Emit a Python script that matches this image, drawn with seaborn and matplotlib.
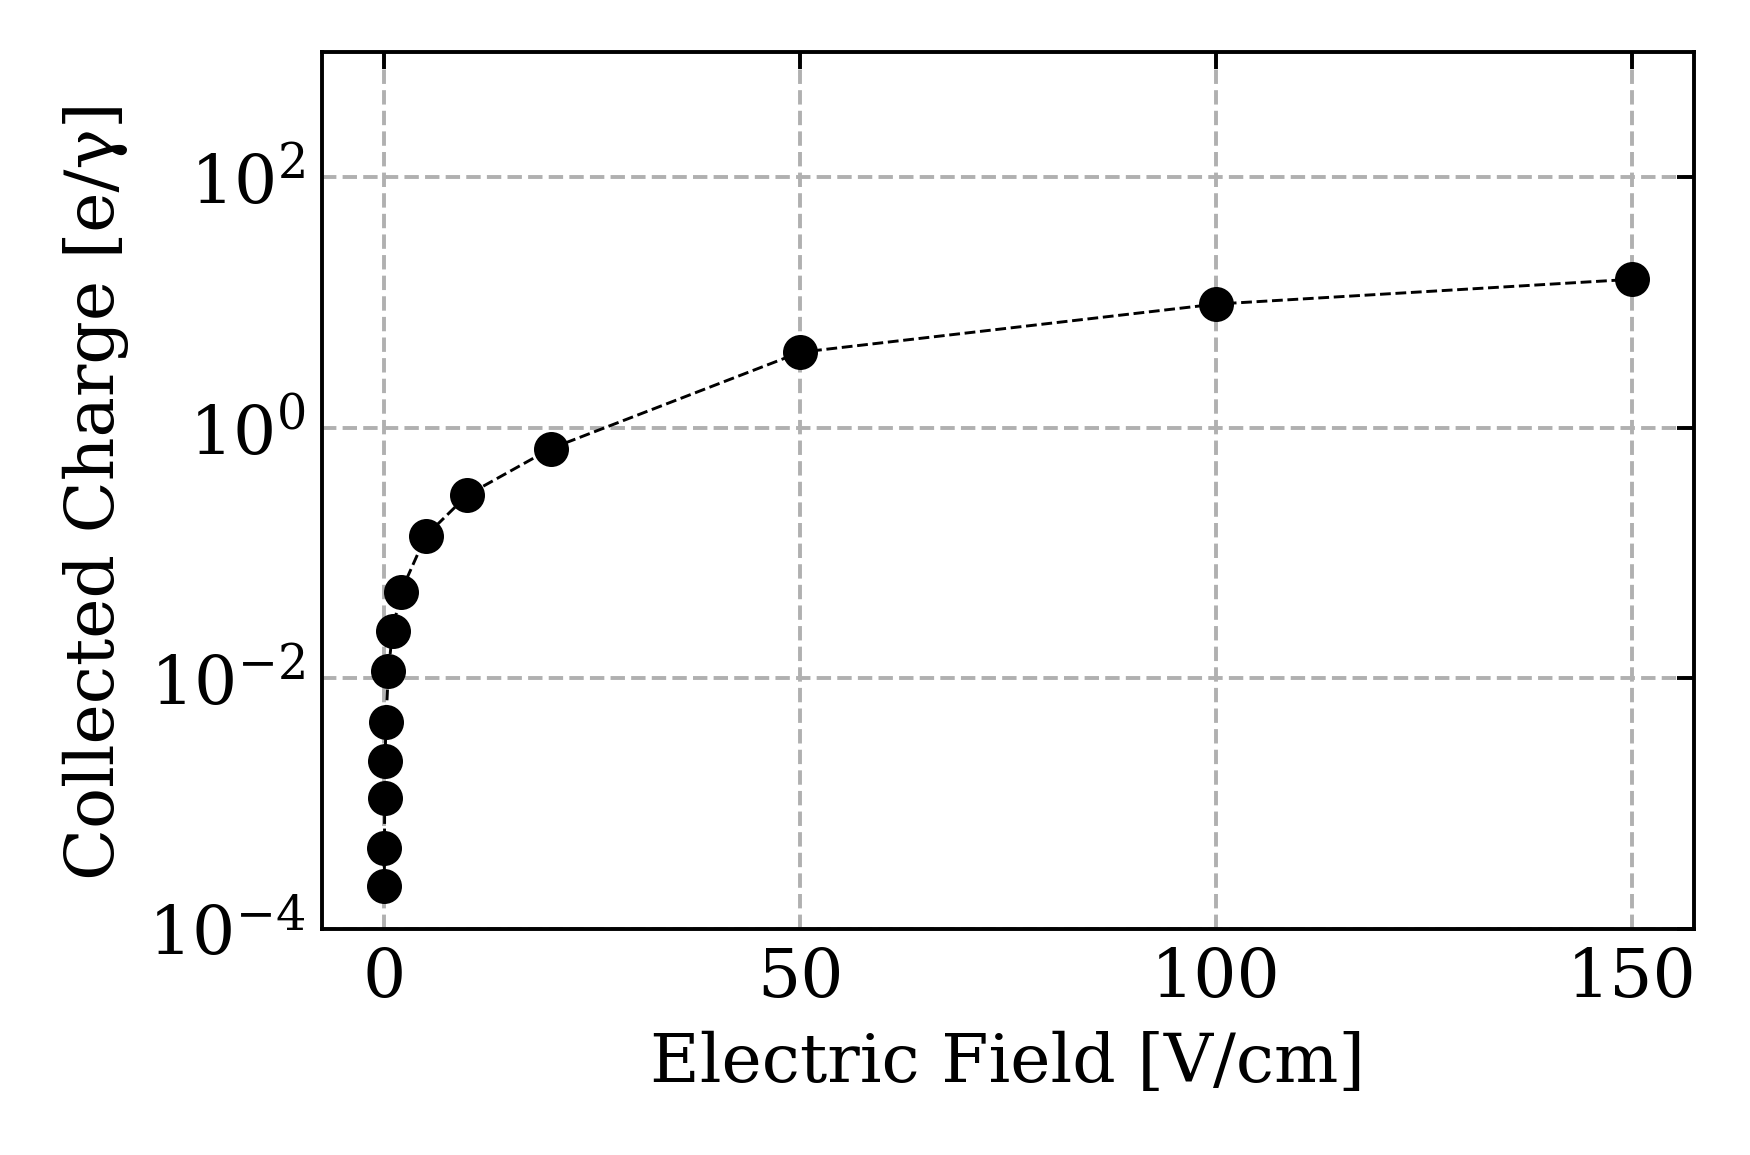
import matplotlib
matplotlib.use("Agg")
import matplotlib.pyplot as plt
import seaborn as sns
import pandas as pd

field = [0.01, 0.02, 0.05, 0.1, 0.2, 0.5, 1, 2, 5, 10, 20, 50, 100, 150]
charge = [2.2e-4, 4.4e-4, 1.1e-3, 2.2e-3, 4.5e-3, 0.0115, 0.024, 0.049,
          0.137, 0.29, 0.68, 4.0, 9.7, 15.3]
xticks = [0, 50, 100, 150]

sns.set_style("white")
plt.rcParams["font.family"] = ["DejaVu Serif"]
plt.rcParams["mathtext.fontset"] = "dejavuserif"
plt.rcParams["text.color"] = "black"
plt.rcParams["axes.labelcolor"] = "black"
plt.rcParams["xtick.color"] = "black"
plt.rcParams["ytick.color"] = "black"

df = pd.DataFrame({"field": field, "charge": charge})

fig = plt.figure(figsize=(5, 3.3), dpi=350)
ax = fig.add_axes([0.184, 0.196, 0.784, 0.759])

sns.lineplot(data=df, x="field", y="charge", ax=ax, color="black",
             linestyle="--", linewidth=0.6, marker="o", markersize=7.2,
             markeredgewidth=0, sort=False, zorder=3)

ax.set_yscale("log")
ax.set_ylim(1e-4, 1e3)
ax.set_yticks([1e-4, 1e-2, 1e0, 1e2])
ax.minorticks_off()
ax.set_xticks(xticks)
ax.grid(True, linestyle="--", color="#b0b0b0", linewidth=0.8)
ax.set_axisbelow(True)
for s in ax.spines.values():
    s.set_color("black")
    s.set_linewidth(0.8)
ax.tick_params(which="both", direction="in", top=True, right=True,
               length=3.5, width=0.8, labelsize=14, color="black",
               labelcolor="black")
ax.set_xlabel("Electric Field [V/cm]", fontsize=14, color="black")
ax.set_ylabel("Collected Charge [e/γ]", fontsize=14, color="black")

fig.savefig("out.png", dpi=350)
